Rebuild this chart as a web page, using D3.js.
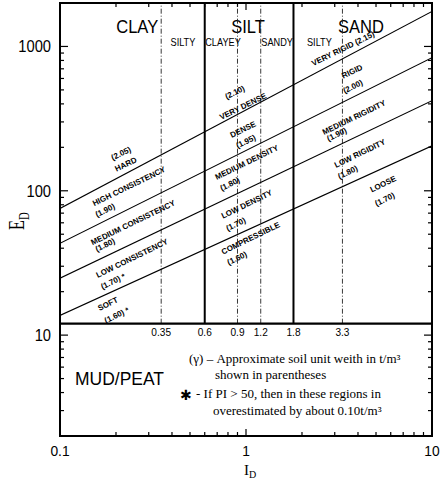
<!DOCTYPE html>
<html>
<head>
<meta charset="utf-8">
<script src="https://cdn.jsdelivr.net/npm/d3@7"></script>
<style>
  html, body { margin: 0; padding: 0; background: #fff; }
  svg { display: block; }
</style>
</head>
<body>
<script>
// ---- Data -------------------------------------------------------------
// Soil unit-weight class boundaries: E_D at the two ends of the I_D range
const boundaryIds = [0.1, 10];
const boundaryA = [75.5, 1750];
const boundaryB = [43.3, 835];
const boundaryC = [24.8, 421];
const boundaryD = [13.7, 205];

// Lower limit of the soil field (MUD/PEAT below)
const mudPeatLimit = 12;

// Soil-type limits on I_D
const mainLimits = [0.6, 1.8];
const subLimits = [0.35, 0.9, 1.2, 3.3];
const limitLabels = ["0.35", "0.6", "0.9", "1.2", "1.8", "3.3"];
const limitValues = [0.35, 0.6, 0.9, 1.2, 1.8, 3.3];

// Soil type headings
const soilNames = ["CLAY", "SILT", "SAND"];
const soilIds = [0.26, 1.025, 4.15];
const soilEd = 1242;
const subNames = ["SILTY", "CLAYEY", "SANDY", "SILTY"];
const subIds = [0.458, 0.752, 1.47, 2.48];
const subEd = 1012;

// Consistency / density classes with unit weight (t/m3)
const classText = [
  "(2.05)", "HARD", "HIGH CONSISTENCY", "(1.90)", "MEDIUM CONSISTENCY", "(1.80)",
  "LOW CONSISTENCY", "(1.70) *", "SOFT", "(1.60) *",
  "(2.10)", "VERY DENSE", "DENSE", "(1.95)", "MEDIUM DENSITY", "(1.80)",
  "LOW DENSITY", "(1.70)", "COMPRESSIBLE", "(1.60)",
  "VERY RIGID (2.15)", "RIGID", "(2.00)", "MEDIUM RIGIDITY", "(1.90)",
  "LOW RIGIDITY", "(1.80)", "LOOSE", "(1.70)"
];
const classIds = [
  0.213, 0.226, 0.235, 0.175, 0.247, 0.175, 0.244, 0.193, 0.181, 0.202,
  0.873, 0.964, 0.964, 1.0, 1.01, 0.82, 1.01, 0.883, 1.06, 0.895,
  3.33, 3.72, 3.76, 3.81, 3.08, 4.10, 3.53, 5.46, 5.58
];
const classEd = [
  181, 152, 107, 73, 60, 42, 34, 23.5, 16.4, 13.7,
  479, 383, 265, 219, 157, 111, 80.5, 58.5, 46.8, 34,
  963, 668, 526, 321, 245, 181, 134, 111, 87
];

const xTickValues = [0.1, 1, 10];
const xTickLabels = ["0.1", "1", "10"];
const yTickValues = [10, 100, 1000];
const yTickLabels = ["10", "100", "1000"];

// ---- Layout -----------------------------------------------------------
const W = 441, H = 481;
const svg = d3.select("body").append("svg").attr("width", W).attr("height", H);

const x = d3.scaleLog().domain([0.1, 10]).range([60, 432]);
const y = d3.scaleLog().domain([2, 2000]).range([436, 3]);
const [x0, x1] = x.range();
const [yb, yt] = y.range();

const sans = "Arial, 'Liberation Sans', sans-serif";
const serif = "'Times New Roman', 'Liberation Serif', serif";

svg.append("clipPath").attr("id", "plot")
  .append("rect").attr("x", x0).attr("y", yt).attr("width", x1 - x0).attr("height", yb - yt);

// minor + major ticks, all drawn inside the frame
const xMinor = [];
for (let d = 0.1; d < 10; d *= 10) for (let k = 2; k <= 9; k++) xMinor.push(+(k * d).toFixed(3));
const yMinor = [];
for (let d = 1; d < 2000; d *= 10) for (let k = 2; k <= 9; k++) { const v = k * d; if (v > 2 && v < 2000) yMinor.push(v); }

const ticks = svg.append("g").attr("stroke", "#000").attr("stroke-width", 1.2);
xMinor.forEach(v => {
  ticks.append("line").attr("x1", x(v)).attr("x2", x(v)).attr("y1", yb).attr("y2", yb - 4);
  ticks.append("line").attr("x1", x(v)).attr("x2", x(v)).attr("y1", yt).attr("y2", yt + 4);
});
xTickValues.forEach(v => {
  ticks.append("line").attr("x1", x(v)).attr("x2", x(v)).attr("y1", yb).attr("y2", yb - 7);
  ticks.append("line").attr("x1", x(v)).attr("x2", x(v)).attr("y1", yt).attr("y2", yt + 7);
});
yMinor.forEach(v => {
  ticks.append("line").attr("y1", y(v)).attr("y2", y(v)).attr("x1", x0).attr("x2", x0 + 4);
  ticks.append("line").attr("y1", y(v)).attr("y2", y(v)).attr("x1", x1).attr("x2", x1 - 4);
});
yTickValues.forEach(v => {
  ticks.append("line").attr("y1", y(v)).attr("y2", y(v)).attr("x1", x0).attr("x2", x0 + 8);
  ticks.append("line").attr("y1", y(v)).attr("y2", y(v)).attr("x1", x1).attr("x2", x1 - 8);
});

// tick labels (slightly condensed sans)
function condText(g, tx, ty, str, size, anchor, sx) {
  return g.append("text")
    .attr("transform", `translate(${tx},${ty}) scale(${sx || 0.92},1)`)
    .attr("text-anchor", anchor || "middle")
    .attr("font-family", sans).attr("font-size", size)
    .attr("fill", "#000").text(str);
}
const labels = svg.append("g");
xTickValues.forEach((v, i) => condText(labels, x(v), 456, xTickLabels[i], 15, "middle"));
yTickValues.forEach((v, i) => condText(labels, 51, y(v) + 6, yTickLabels[i], 16, "end"));

// axis titles
const eLab = svg.append("text")
  .attr("transform", `translate(24,230) rotate(-90) scale(0.9,1.25)`)
  .attr("font-family", serif).attr("font-size", 18).attr("fill", "#000");
eLab.append("tspan").text("E");
eLab.append("tspan").attr("font-size", 12).attr("dy", 4).text("D");

const iLab = svg.append("text")
  .attr("transform", `translate(${x(1) - 2},475)`)
  .attr("font-family", serif).attr("font-size", 15).attr("fill", "#000");
iLab.append("tspan").text("I");
iLab.append("tspan").attr("font-size", 10).attr("dy", 3).text("D");

// ---- Plot content -------------------------------------------------------
const plot = svg.append("g").attr("clip-path", "url(#plot)");

// soil-type limits
const yLim = y(mudPeatLimit);
plot.selectAll(".sub").data(subLimits).join("line")
  .attr("x1", d => x(d)).attr("x2", d => x(d))
  .attr("y1", yLim).attr("y2", yt)
  .attr("stroke", "#222").attr("stroke-width", 0.9)
  .attr("stroke-dasharray", "5,2,1,2");
plot.selectAll(".main").data(mainLimits).join("line")
  .attr("x1", d => x(d)).attr("x2", d => x(d))
  .attr("y1", yLim).attr("y2", yt)
  .attr("stroke", "#000").attr("stroke-width", 2);

// unit-weight boundaries
const bLine = d3.line().x((d, i) => x(boundaryIds[i])).y(d => y(d));
[boundaryA, boundaryB, boundaryC, boundaryD].forEach(b => {
  plot.append("path").attr("d", bLine(b))
    .attr("fill", "none").attr("stroke", "#000").attr("stroke-width", 1.1);
});

// MUD/PEAT limit
plot.append("line").attr("x1", x0).attr("x2", x1).attr("y1", yLim).attr("y2", yLim)
  .attr("stroke", "#000").attr("stroke-width", 2.2);

// limit values under the line
limitValues.forEach((v, i) => condText(labels, x(v), yLim + 12, limitLabels[i], 11, "middle"));

// soil type headings
soilNames.forEach((s, i) => condText(labels, x(soilIds[i]), y(soilEd), s, 18, "middle"));
subNames.forEach((s, i) => condText(labels, x(subIds[i]), y(subEd), s, 10, "middle"));

// class labels along the boundaries
const cls = svg.append("g");
classText.forEach((t, i) => {
  cls.append("text")
    .attr("transform", `translate(${x(classIds[i])},${y(classEd[i])}) rotate(-26)`)
    .attr("text-anchor", "middle").attr("dominant-baseline", "central")
    .attr("font-family", sans).attr("font-weight", "bold").attr("font-size", 8)
    .attr("fill", "#000").text(t);
});

// MUD/PEAT zone
condText(labels, 75, 385, "MUD/PEAT", 19, "start");

// notes
const notes = svg.append("g").attr("font-family", serif).attr("font-size", 13).attr("fill", "#000");
notes.append("text").attr("x", 189).attr("y", 363).text("(\u03B3) \u2013 Approximate soil unit weith in t/m\u00B3");
notes.append("text").attr("x", 215).attr("y", 379).text("shown in parentheses");
notes.append("text").attr("x", 180).attr("y", 400)
  .attr("font-family", "'DejaVu Sans', sans-serif").attr("font-size", 14).attr("font-weight", "bold").text("\u2731");
notes.append("text").attr("x", 196).attr("y", 398).text("- If PI > 50, then in these regions in");
notes.append("text").attr("x", 213).attr("y", 415).text("overestimated by about 0.10t/m\u00B3");

// frame
svg.append("rect").attr("x", x0).attr("y", yt).attr("width", x1 - x0).attr("height", yb - yt)
  .attr("fill", "none").attr("stroke", "#000").attr("stroke-width", 2);
</script>
</body>
</html>
